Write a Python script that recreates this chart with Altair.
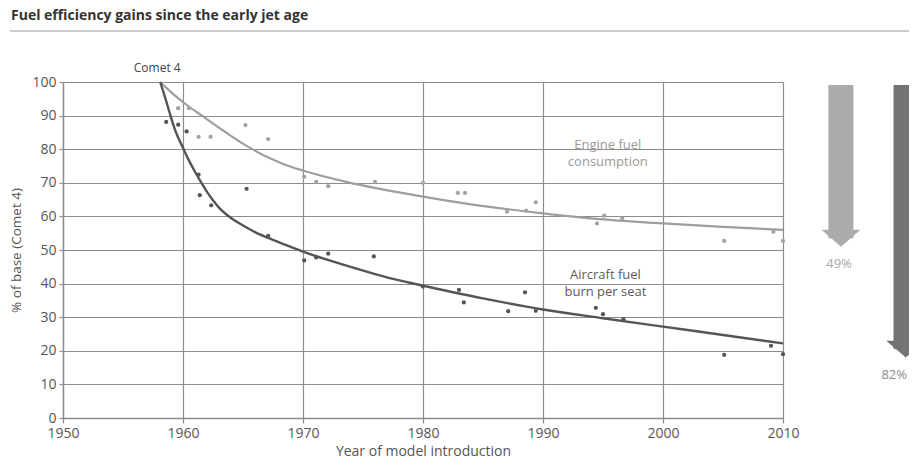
import altair as alt
import pandas as pd

# ---------------- data ----------------
TITLE = "Fuel efficiency gains since the early jet age"
X_TITLE = "Year of model introduction"
Y_TITLE = "% of base (Comet 4)"

x_ticks = [1950, 1960, 1970, 1980, 1990, 2000, 2010]
y_ticks = [0, 10, 20, 30, 40, 50, 60, 70, 80, 90, 100]

engine_pt_year = [1959.6, 1960.5, 1961.3, 1962.3, 1965.2, 1967.1, 1970.1, 1971.1, 1972.1,
                  1976.0, 1980.0, 1982.9, 1983.5, 1987.0, 1988.6, 1989.4, 1994.5, 1995.1,
                  1996.6, 2005.1, 2009.2, 2010.0]
engine_pt_val = [92.2, 92.2, 83.7, 83.7, 87.2, 83.0, 71.8, 70.3, 69.0,
                 70.3, 70.0, 67.0, 67.0, 61.4, 61.7, 64.2, 57.9, 60.2,
                 59.4, 52.7, 55.4, 52.7]

aircraft_pt_year = [1958.6, 1959.6, 1960.3, 1961.3, 1961.4, 1962.35, 1965.3, 1967.1, 1970.1,
                    1971.1, 1972.1, 1975.9, 1980.0, 1983.0, 1983.4, 1987.1, 1988.5, 1989.4,
                    1994.4, 1995.0, 1996.7, 2005.1, 2009.0, 2010.0]
aircraft_pt_val = [88.1, 87.3, 85.3, 72.4, 66.3, 63.3, 68.2, 54.2, 46.9,
                   47.8, 48.9, 48.1, 39.1, 38.1, 34.4, 31.8, 37.4, 31.9,
                   32.8, 30.9, 29.4, 18.8, 21.5, 19.0]

engine_fit_year = [1958.1, 1959.0, 1960.1, 1961.85, 1963.5, 1965.2, 1967.3, 1968.5, 1970.05,
                   1973.7, 1980.0, 1984.0, 1990.0, 1995.0, 2000.0, 2005.0, 2010.0]
engine_fit_val = [100.0, 97.0, 93.75, 89.3, 85.2, 81.2, 77.2, 75.4, 73.6,
                  70.2, 65.9, 63.6, 60.9, 59.1, 57.9, 56.9, 56.0]

aircraft_fit_year = [1958.1, 1958.5, 1958.85, 1959.35, 1960.0, 1960.5, 1961.0, 1961.5, 1962.0,
                     1962.5, 1963.0, 1964.0, 1965.0, 1966.0, 1967.1, 1968.5, 1970.0, 1973.7,
                     1977.85, 1980.0, 1985.0, 1990.0, 1995.0, 2000.0, 2005.0, 2010.0]
aircraft_fit_val = [100.0, 95.5, 91.3, 85.6, 80.4, 76.6, 73.3, 70.2, 67.3,
                    64.8, 62.6, 59.5, 57.3, 55.3, 53.6, 51.6, 49.5, 45.3,
                    41.1, 39.4, 35.6, 32.3, 29.7, 27.2, 24.7, 22.2]

base_label = "Comet 4"
base_year = 1958.1
base_val = 100

series_labels = ["Engine fuel\nconsumption", "Aircraft fuel\nburn per seat"]
reduction_labels = ["49%", "82%"]
reduction_pct = [49, 82]

# ---------------- layout / style ----------------
LIGHT = "#a3a3a3"
DARK = "#555555"
ARROW_LIGHT = "#ababab"
ARROW_DARK = "#737373"
GRID = "#8c8c8c"
FONT = "Open Sans"

# annotation placement (in data units of the shared scales)
label_x = [1995.4, 1995.2]
label_y = [81.25, 42.6]
arrow_x0 = [2013.78, 2019.21]
arrow_x1 = [2015.87, 2021.27]
arrow_xc = [2014.83, 2020.23]
arrow_top = 99.1
head_half = 2.5  # half head height, in y units
pct_x = [2014.67, 2019.27]

xs = alt.Scale(domain=[1950, 2010], nice=False, zero=False)
ys = alt.Scale(domain=[0, 100], nice=False, zero=False)
xaxis = alt.Axis(values=x_ticks, format="d", title=X_TITLE, grid=True, labelFlush=False,
                 tickSize=5, labelPadding=3, titlePadding=4, titleFontSize=14)
yaxis = alt.Axis(values=y_ticks, title=Y_TITLE, grid=True, tickSize=4, labelFlush=False,
                 labelPadding=3, titlePadding=8, titleFontSize=13.5)


def X(field):
    return alt.X(field, type="quantitative", scale=xs, axis=xaxis, title=X_TITLE)


def Y(field):
    return alt.Y(field, type="quantitative", scale=ys, axis=yaxis, title=Y_TITLE)


eng_pts = pd.DataFrame({"year": engine_pt_year, "val": engine_pt_val})
air_pts = pd.DataFrame({"year": aircraft_pt_year, "val": aircraft_pt_val})
eng_fit = pd.DataFrame({"year": engine_fit_year, "val": engine_fit_val})
air_fit = pd.DataFrame({"year": aircraft_fit_year, "val": aircraft_fit_val})

tips = [100 - p for p in reduction_pct]
arrows = pd.DataFrame({
    "x0": arrow_x0, "x1": arrow_x1, "year": arrow_xc,
    "top": [arrow_top, arrow_top],
    "val": [t + head_half for t in tips],
    "c": [ARROW_LIGHT, ARROW_DARK],
})
pcts = pd.DataFrame({"year": pct_x, "val": tips, "text": reduction_labels,
                     "c": ["#a8a8a8", "#8a8a8a"]})
labels = pd.DataFrame({"year": label_x, "val": label_y, "text": series_labels,
                       "c": ["#9a9a9a", "#5a5a5a"]})
base = pd.DataFrame({"year": [base_year], "val": [base_val], "text": [base_label]})
title_df = pd.DataFrame({"text": [TITLE]})

l_eng_fit = alt.Chart(eng_fit).mark_line(color="#9e9e9e", strokeWidth=2.2,
                                         interpolate="monotone").encode(x=X("year"), y=Y("val"))
l_air_fit = alt.Chart(air_fit).mark_line(color="#555555", strokeWidth=2.4,
                                         interpolate="monotone").encode(x=X("year"), y=Y("val"))
l_eng_pts = alt.Chart(eng_pts).mark_circle(color=LIGHT, size=18, opacity=1).encode(
    x=X("year"), y=Y("val"))
l_air_pts = alt.Chart(air_pts).mark_circle(color=DARK, size=18, opacity=1).encode(
    x=X("year"), y=Y("val"))

l_shaft = alt.Chart(arrows).mark_rect().encode(
    x=X("x0"), x2="x1", y=Y("top"), y2="val",
    color=alt.Color("c:N", scale=None))
l_head = alt.Chart(arrows).mark_point(
    shape="M-1,-0.43L1,-0.43L0,0.43Z", size=1521, filled=True, opacity=1, strokeWidth=0
).encode(x=X("year"), y=Y("val"), color=alt.Color("c:N", scale=None))

l_pct = alt.Chart(pcts).mark_text(
    font=FONT, fontSize=13, align="center", baseline="top", dy=11
).encode(x=X("year"), y=Y("val"), text="text:N", color=alt.Color("c:N", scale=None))

l_labels = alt.Chart(labels).mark_text(
    font=FONT, fontSize=13, align="center", baseline="middle", lineBreak="\n", lineHeight=17
).encode(x=X("year"), y=Y("val"), text="text:N", color=alt.Color("c:N", scale=None))

l_base = alt.Chart(base).mark_text(
    font=FONT, fontSize=12, align="center", baseline="middle", dx=-3, dy=-14, color="#444444"
).encode(x=X("year"), y=Y("val"), text="text:N")

l_titlerule = alt.Chart(base).mark_rule(color="#9a9a9a", strokeWidth=1).encode(
    x=alt.value(-53), x2=alt.value(860), y=alt.value(-51))

l_title = alt.Chart(title_df).mark_text(
    font=FONT, fontSize=14, fontWeight="bold", color="#333333", align="left",
    baseline="alphabetic"
).encode(x=alt.value(-52), y=alt.value(-62), text="text:N")

chart = alt.layer(
    l_titlerule, l_title, l_eng_fit, l_air_fit, l_eng_pts, l_air_pts, l_shaft, l_head,
    l_pct, l_labels, l_base
).properties(
    width=720, height=336,
    autosize=alt.AutoSizeParams(type="none"),
    padding={"left": 55, "top": 74, "right": 126, "bottom": 40},
).configure_view(stroke=None).configure_axis(
    gridColor=GRID, gridWidth=1.2, gridOpacity=1,
    domainColor=GRID, domainWidth=1.4, tickColor=GRID, tickWidth=1.2,
    labelFont=FONT, labelFontSize=14, labelColor="#555555",
    titleFont=FONT, titleColor="#555555", titleFontWeight="normal",
)

chart.save("out.html", embed_options={"renderer": "svg", "actions": False})
